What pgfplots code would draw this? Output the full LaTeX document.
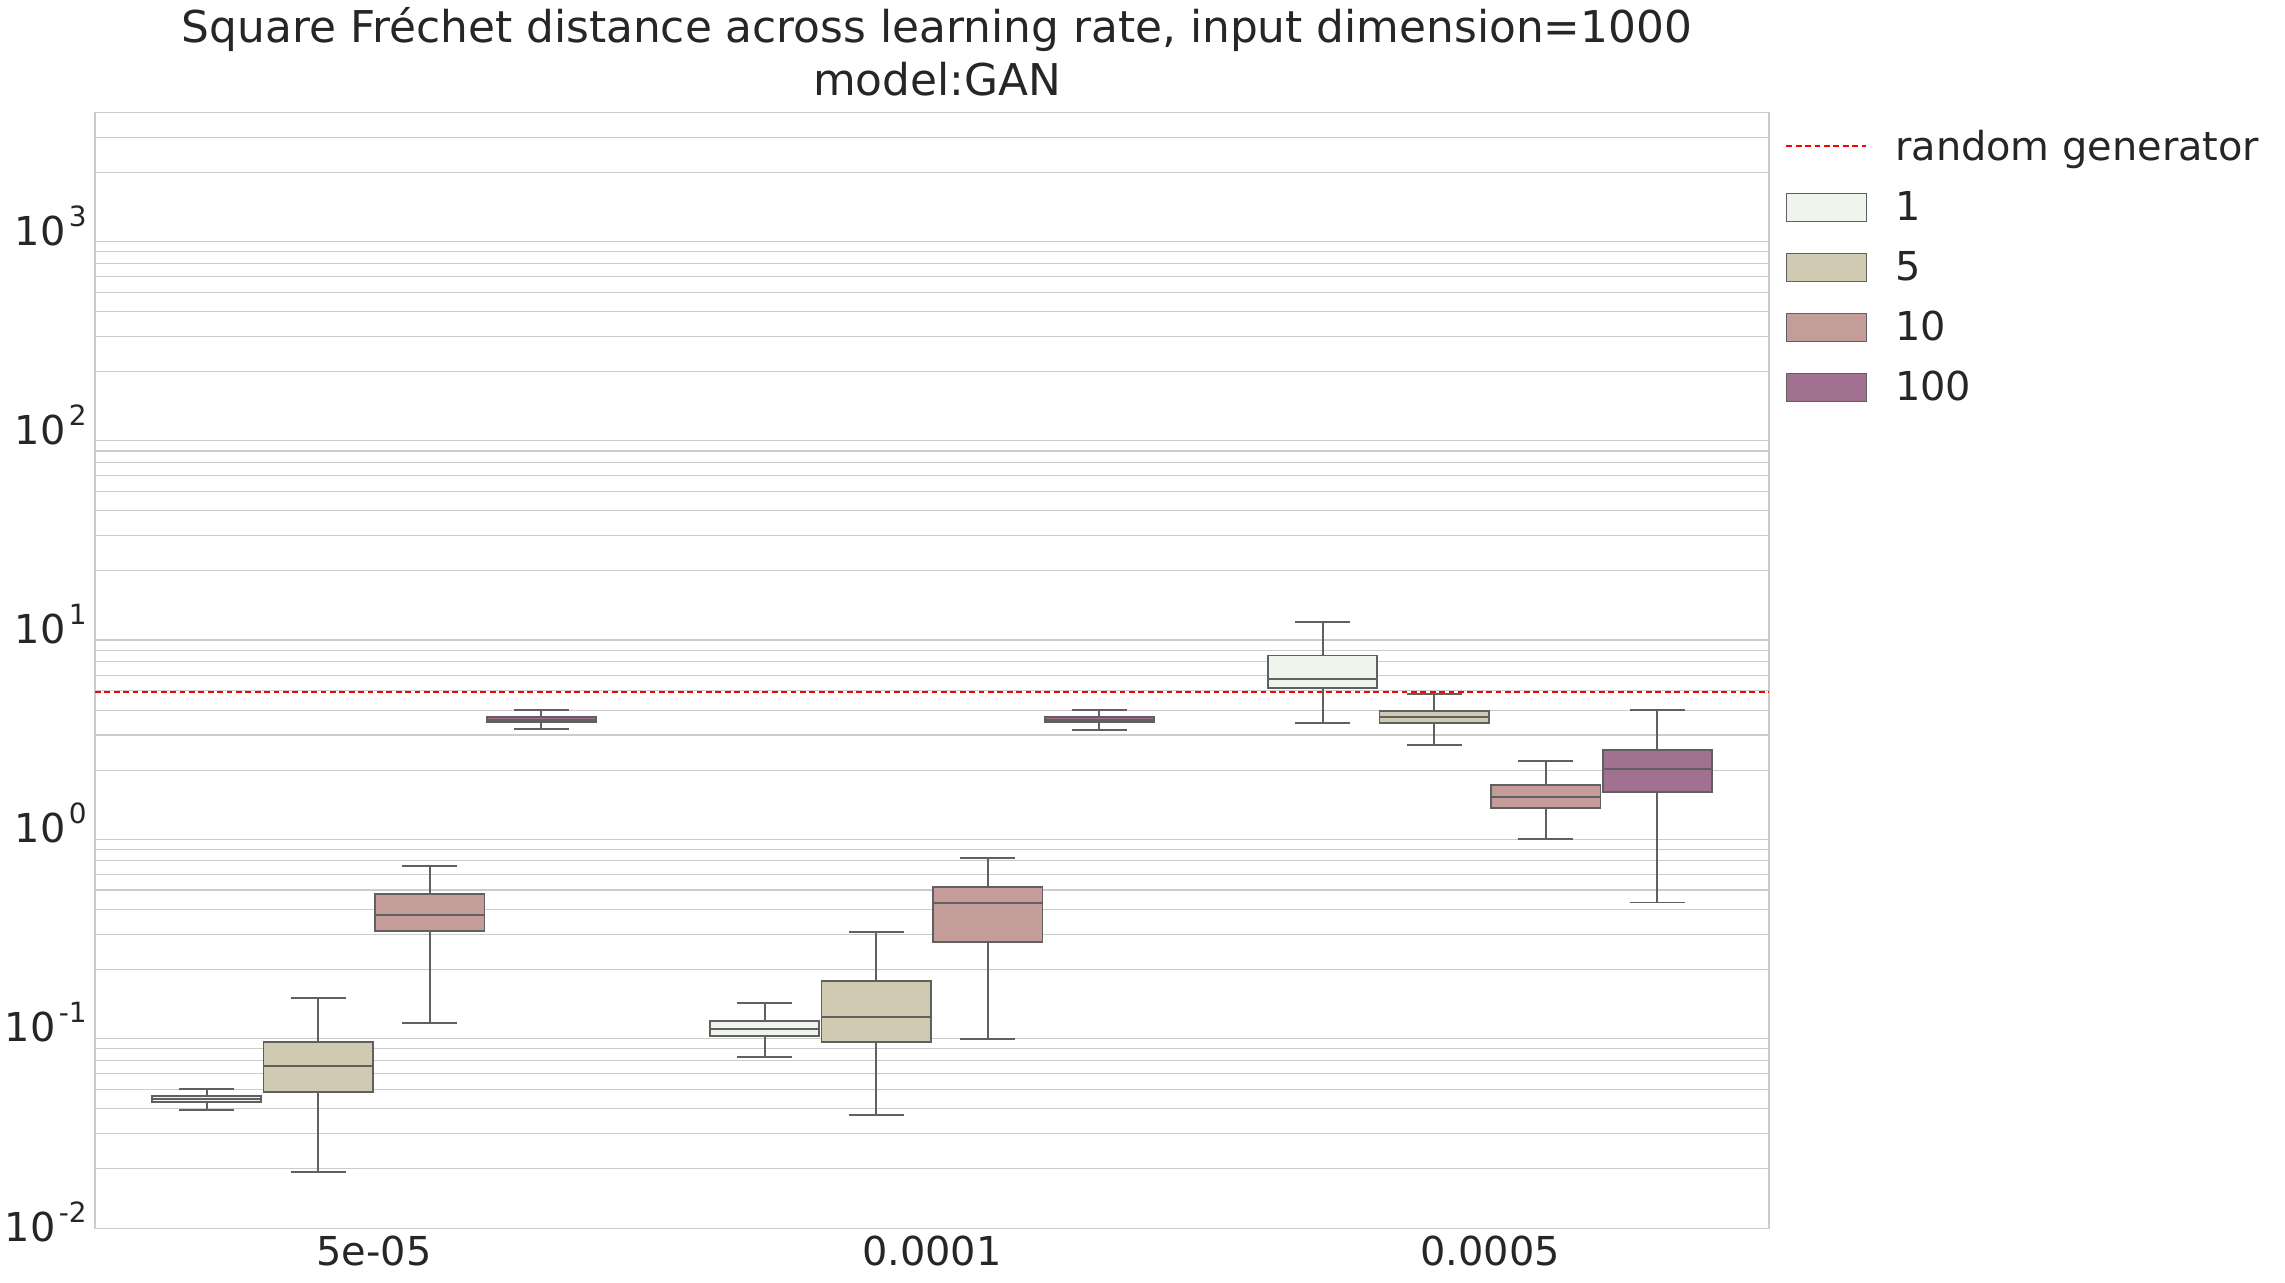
\documentclass[border=0pt]{standalone}
\usepackage{pgfplots}
\pgfplotsset{compat=1.18}
\usepgfplotslibrary{statistics}
\usepackage{fontspec}
\setmainfont{DejaVu Sans}
\definecolor{cA}{HTML}{EFF5ED}
\definecolor{cB}{HTML}{D0CAB2}
\definecolor{cC}{HTML}{C49C9A}
\definecolor{cD}{HTML}{A07290}
\definecolor{edge}{HTML}{606060}
\definecolor{gridc}{HTML}{CCCCCC}
\definecolor{textc}{HTML}{262626}
\newcommand{\tl}[1]{10\hspace{1.6bp}\raisebox{9.5bp}{\fontsize{14}{14}\selectfont #1}}
\pgfplotsset{
  bx/.style={boxplot/box extend=0.196, boxplot/whisker extend=0.098, draw=edge, line width=0.95bp, solid},
}
\newcommand{\lbox}[1]{\draw[fill=#1, draw=edge, line width=0.6bp] (0bp,-5.5bp) rectangle (40bp,8.5bp);}
\begin{document}
\begin{tikzpicture}
\useasboundingbox (0,0) rectangle (1142.5bp,641.5bp);
\begin{axis}[
  at={(47.5bp,27.25bp)}, anchor=south west,
  scale only axis, width=837bp, height=558bp,
  ymode=log, ymin=0.01, ymax=4000, xmin=-0.5, xmax=2.5,
  boxplot/draw direction=y,
  xtick={0,1,2}, xticklabels={5e-05,0.0001,0.0005},
  ytick={0.01,0.1,1,10,100,1000},
  yticklabels={\tl{-2},\tl{-1},\tl{0},\tl{1},\tl{2},\tl{3}},
  minor ytick={0.02,0.03,0.04,0.05,0.06,0.07,0.08,0.09,0.2,0.3,0.4,0.5,0.6,0.7,0.8,0.9,2,3,4,5,6,7,8,9,20,30,40,50,60,70,80,90,200,300,400,500,600,700,800,900,2000,3000},
  ymajorgrids=false, yminorgrids=true, xmajorgrids=false,
  minor grid style={draw=gridc, line width=0.55bp},
  major tick length=0pt, minor tick length=0pt,
  axis line style={draw=gridc, line width=0.6bp},
  tick label style={font=\fontsize{20}{24}\selectfont, text=textc},
  xticklabel style={inner sep=0pt, anchor=north, yshift=-3.7bp},
  yticklabel style={inner sep=0pt, anchor=east, xshift=-4bp, yshift=3.5bp},
  legend style={at={(1,1)}, anchor=north west, xshift=8bp, yshift=-8.2bp, draw=none, fill=none, inner sep=0pt, row sep=8.5bp, column sep=14bp, font=\fontsize{20}{24}\selectfont, text=textc, nodes={inner sep=0pt, text height=15.5bp, text depth=6bp}},
  legend cell align=left,
]
\addplot[red, dash pattern=on 2.9bp off 1.8bp, line width=1.05bp, legend image code/.code={\draw[red, dash pattern=on 2.9bp off 1.8bp, line width=0.9bp] (0bp,2.2bp) -- (40bp,2.2bp);}] coordinates {(-0.5,4.95) (2.5,4.95)};
\addlegendentry{random generator}
% hue 1
\addplot[bx, fill=cA, boxplot prepared={draw position=-0.3, lower whisker=0.0393, lower quartile=0.0431, median=0.0445, upper quartile=0.0461, upper whisker=0.0501}, legend image code/.code={\lbox{cA}}] coordinates {};
\addlegendentry{1}
\addplot[bx, fill=cA, forget plot, boxplot prepared={draw position=0.7, lower whisker=0.0727, lower quartile=0.0927, median=0.1004, upper quartile=0.1097, upper whisker=0.1358}] coordinates {};
\addplot[bx, fill=cA, forget plot, boxplot prepared={draw position=1.7, lower whisker=3.46, lower quartile=5.15, median=5.71, upper quartile=7.52, upper whisker=11.06}] coordinates {};
% hue 5
\addplot[bx, fill=cB, boxplot prepared={draw position=-0.1, lower whisker=0.0192, lower quartile=0.0484, median=0.0654, upper quartile=0.0864, upper whisker=0.1438}, legend image code/.code={\lbox{cB}}] coordinates {};
\addlegendentry{5}
\addplot[bx, fill=cB, forget plot, boxplot prepared={draw position=0.9, lower whisker=0.0371, lower quartile=0.0864, median=0.1152, upper quartile=0.1747, upper whisker=0.308}] coordinates {};
\addplot[bx, fill=cB, forget plot, boxplot prepared={draw position=1.9, lower whisker=2.66, lower quartile=3.44, median=3.68, upper quartile=3.98, upper whisker=4.81}] coordinates {};
% hue 10
\addplot[bx, fill=cC, boxplot prepared={draw position=0.1, lower whisker=0.1078, lower quartile=0.312, median=0.376, upper quartile=0.480, upper whisker=0.662}, legend image code/.code={\lbox{cC}}] coordinates {};
\addlegendentry{10}
\addplot[bx, fill=cC, forget plot, boxplot prepared={draw position=1.1, lower whisker=0.0895, lower quartile=0.2745, median=0.431, upper quartile=0.519, upper whisker=0.727}] coordinates {};
\addplot[bx, fill=cC, forget plot, boxplot prepared={draw position=2.1, lower whisker=0.898, lower quartile=1.29, median=1.47, upper quartile=1.68, upper whisker=2.23}] coordinates {};
% hue 100
\addplot[bx, fill=cD, boxplot prepared={draw position=0.3, lower whisker=3.23, lower quartile=3.50, median=3.58, upper quartile=3.71, upper whisker=4.02}, legend image code/.code={\lbox{cD}}] coordinates {};
\addlegendentry{100}
\addplot[bx, fill=cD, forget plot, boxplot prepared={draw position=1.3, lower whisker=3.19, lower quartile=3.50, median=3.58, upper quartile=3.71, upper whisker=4.02}] coordinates {};
\addplot[bx, fill=cD, forget plot, boxplot prepared={draw position=2.3, lower whisker=0.433, lower quartile=1.55, median=2.02, upper quartile=2.52, upper whisker=4.02}] coordinates {};
\end{axis}
\node[anchor=base, font=\fontsize{22}{26.4}\selectfont, text=textc, inner sep=0pt] at (468.5bp,620bp) {Square Fréchet distance across learning rate, input dimension=1000};
\node[anchor=base, font=\fontsize{22}{26.4}\selectfont, text=textc, inner sep=0pt] at (468.5bp,593.5bp) {model:GAN};
\end{tikzpicture}
\end{document}
